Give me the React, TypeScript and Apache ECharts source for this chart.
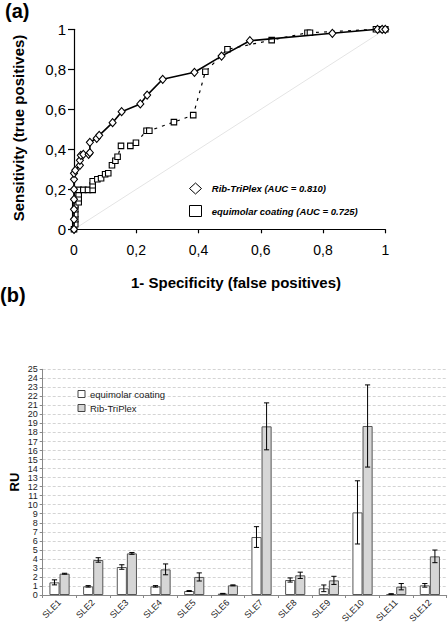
import React, { useEffect, useRef } from "react";
import * as echarts from "echarts";

const FONT = "'Liberation Sans', Arial, Helvetica, sans-serif";

// ---- Panel (a): ROC curves ----
const RIB_NAME = "Rib-TriPlex (AUC = 0.810)";
const EQUI_NAME = "equimolar coating (AUC = 0.725)";

const ribFpr = [0, 0, 0, 0, 0, 0, 0, 0.004, 0.019, 0.019, 0.022, 0.03, 0.047, 0.051, 0.051, 0.073, 0.081, 0.124, 0.153, 0.213, 0.235, 0.285, 0.387, 0.474, 0.565, 0.83, 0.975, 0.99, 1];
const ribTpr = [0, 0.05, 0.1, 0.15, 0.2, 0.25, 0.28, 0.295, 0.32, 0.345, 0.37, 0.375, 0.375, 0.383, 0.435, 0.455, 0.47, 0.533, 0.588, 0.627, 0.671, 0.75, 0.785, 0.866, 0.943, 0.98, 1, 1, 1];

const equiFpr = [0, 0.004, 0.004, 0.004, 0.004, 0.004, 0.015, 0.015, 0.015, 0.015, 0.03, 0.045, 0.06, 0.06, 0.06, 0.075, 0.087, 0.1, 0.11, 0.122, 0.133, 0.14, 0.151, 0.181, 0.199, 0.233, 0.242, 0.321, 0.383, 0.422, 0.493, 0.635, 0.75, 0.758, 0.97, 0.985, 1];
const equiTpr = [0, 0.025, 0.05, 0.075, 0.1, 0.12, 0.135, 0.155, 0.175, 0.197, 0.197, 0.197, 0.197, 0.22, 0.24, 0.25, 0.255, 0.275, 0.28, 0.32, 0.343, 0.363, 0.417, 0.417, 0.433, 0.493, 0.493, 0.536, 0.571, 0.788, 0.9, 0.946, 0.983, 0.983, 1, 1, 1];

// ---- Panel (b): bar chart ----
const categories = ["SLE1", "SLE2", "SLE3", "SLE4", "SLE5", "SLE6", "SLE7", "SLE8", "SLE9", "SLE10", "SLE11", "SLE12"];
const equiValues = [1.4, 0.96, 3.1, 0.96, 0.44, 0.15, 6.42, 1.66, 0.74, 9.15, 0.11, 1.07];
const equiErrors = [0.28, 0.08, 0.25, 0.08, 0.05, 0.03, 1.15, 0.23, 0.37, 3.5, 0.03, 0.2];
const ribValues = [2.36, 3.88, 4.61, 2.84, 2.0, 1.07, 18.68, 2.18, 1.62, 18.72, 0.92, 4.28];
const ribErrors = [0.05, 0.25, 0.1, 0.6, 0.45, 0.05, 2.6, 0.35, 0.45, 4.55, 0.35, 0.7];

const fmtComma = (v: number) => String(v).replace(".", ",");

function errorSeries(values: number[], errors: number[], side: number) {
  return {
    type: "custom",
    xAxisIndex: 1,
    yAxisIndex: 1,
    z: 10,
    silent: true,
    encode: { x: 0, y: [1, 2] },
    data: values.map((v, i) => [i, Math.max(0, v - errors[i]), v + errors[i]]),
    renderItem: (_params: any, api: any) => {
      const idx = api.value(0);
      const lo = api.coord([idx, api.value(1)]);
      const hi = api.coord([idx, api.value(2)]);
      const band = api.size([1, 0])[0];
      const x = lo[0] + side * band * 0.15;
      const cap = 2.6;
      const st = { stroke: "#000", lineWidth: 1 };
      return {
        type: "group",
        children: [
          { type: "line", shape: { x1: x, y1: lo[1], x2: x, y2: hi[1] }, style: st },
          { type: "line", shape: { x1: x - cap, y1: lo[1], x2: x + cap, y2: lo[1] }, style: st },
          { type: "line", shape: { x1: x - cap, y1: hi[1], x2: x + cap, y2: hi[1] }, style: st },
        ],
      };
    },
  };
}

export default function App() {
  const ref = useRef<HTMLDivElement>(null);

  useEffect(() => {
    if (!ref.current) return;
    const chart = echarts.init(ref.current, undefined, { renderer: "svg" });

    const option: any = {
      animation: false,
      backgroundColor: "#ffffff",
      textStyle: { fontFamily: FONT },
      grid: [
        { left: 74, top: 29.3, width: 311.3, height: 200 },
        { left: 42.7, top: 369.3, width: 404, height: 225.7 },
      ],
      legend: [
        {
          orient: "vertical",
          left: 184,
          top: 177.5,
          itemWidth: 12,
          itemHeight: 11,
          itemGap: 10.5,
          selectedMode: false,
          formatter: (n: string) => "  " + n,
          textStyle: { fontSize: 9.5, fontWeight: "bold", fontStyle: "italic", color: "#000", fontFamily: FONT },
          data: [
            { name: RIB_NAME, icon: "diamond", itemStyle: { color: "#fff", borderColor: "#000", borderWidth: 1 } },
            { name: EQUI_NAME, icon: "rect", itemStyle: { color: "#fff", borderColor: "#000", borderWidth: 1 } },
          ],
        },
        {
          orient: "vertical",
          left: 72.5,
          top: 384,
          itemWidth: 7,
          itemHeight: 7,
          itemGap: 4,
          selectedMode: false,
          textStyle: { fontSize: 9.5, color: "#222", fontFamily: FONT },
          data: [
            { name: "equimolar coating", icon: "rect", itemStyle: { color: "#fff", borderColor: "#444", borderWidth: 1 } },
            { name: "Rib-TriPlex", icon: "rect", itemStyle: { color: "#d6d6d6", borderColor: "#444", borderWidth: 1 } },
          ],
        },
      ],
      xAxis: [
        {
          gridIndex: 0,
          type: "value",
          min: 0,
          max: 1,
          interval: 0.2,
          axisLine: { show: true, lineStyle: { color: "#000", width: 1.2 } },
          axisTick: { show: true, length: 4, lineStyle: { color: "#000", width: 1.2 } },
          splitLine: { show: false },
          axisLabel: { fontSize: 14, color: "#000", margin: 14, fontFamily: FONT, formatter: fmtComma },
        },
        {
          gridIndex: 1,
          type: "category",
          data: categories,
          axisLine: { show: true, lineStyle: { color: "#888", width: 1 } },
          axisTick: { show: true, length: 3, lineStyle: { color: "#888" } },
          axisLabel: { rotate: 45, fontSize: 9, color: "#222", margin: 6, interval: 0, fontFamily: FONT },
        },
      ],
      yAxis: [
        {
          gridIndex: 0,
          type: "value",
          min: 0,
          max: 1,
          interval: 0.2,
          axisLine: { show: true, lineStyle: { color: "#000", width: 1.2 } },
          axisTick: { show: true, length: 6, lineStyle: { color: "#000", width: 1.2 } },
          splitLine: { show: false },
          axisLabel: { fontSize: 15, color: "#000", margin: 8, fontFamily: FONT, formatter: fmtComma },
        },
        {
          gridIndex: 1,
          type: "value",
          min: 0,
          max: 25,
          interval: 1,
          axisLine: { show: true, lineStyle: { color: "#888", width: 1 } },
          axisTick: { show: true, length: 3, lineStyle: { color: "#888" } },
          splitLine: { show: true, lineStyle: { color: "#d4d4d4", type: [3, 2], width: 1 } },
          axisLabel: { fontSize: 9, color: "#222", margin: 5, fontFamily: FONT },
        },
      ],
      series: [
        {
          name: "diagonal",
          type: "line",
          xAxisIndex: 0,
          yAxisIndex: 0,
          data: [[0, 0], [1, 1]],
          symbol: "none",
          silent: true,
          lineStyle: { color: "#e4e4e4", width: 1 },
          z: 1,
        },
        {
          name: EQUI_NAME,
          type: "line",
          xAxisIndex: 0,
          yAxisIndex: 0,
          data: equiFpr.map((x, i) => [x, equiTpr[i]]),
          symbol: "rect",
          symbolSize: 5.5,
          showAllSymbol: true,
          lineStyle: { color: "#000", width: 1.2, type: [3, 5] },
          itemStyle: { color: "#fff", borderColor: "#000", borderWidth: 1.1 },
          z: 3,
        },
        {
          name: RIB_NAME,
          type: "line",
          xAxisIndex: 0,
          yAxisIndex: 0,
          data: ribFpr.map((x, i) => [x, ribTpr[i]]),
          symbol: "diamond",
          symbolSize: [7, 8],
          showAllSymbol: true,
          lineStyle: { color: "#000", width: 1.6 },
          itemStyle: { color: "#fff", borderColor: "#000", borderWidth: 1.1 },
          z: 4,
        },
        {
          name: "equimolar coating",
          type: "bar",
          xAxisIndex: 1,
          yAxisIndex: 1,
          data: equiValues,
          barGap: "0%",
          barCategoryGap: "40%",
          itemStyle: { color: "#ffffff", borderColor: "#555", borderWidth: 1 },
        },
        {
          name: "Rib-TriPlex",
          type: "bar",
          xAxisIndex: 1,
          yAxisIndex: 1,
          data: ribValues,
          barGap: "0%",
          barCategoryGap: "40%",
          itemStyle: { color: "#d6d6d6", borderColor: "#555", borderWidth: 1 },
        },
        errorSeries(equiValues, equiErrors, -1),
        errorSeries(ribValues, ribErrors, 1),
      ],
      graphic: [
        { type: "text", left: 5, top: 1, style: { text: "(a)", font: `bold 20px ${FONT}`, fill: "#000" } },
        { type: "text", left: 0, top: 285, style: { text: "(b)", font: `bold 20px ${FONT}`, fill: "#000" } },
        {
          type: "text",
          x: 18,
          y: 128,
          rotation: Math.PI / 2,
          style: { text: "Sensitivity (true positives)", font: `bold 15px ${FONT}`, fill: "#000", align: "center", verticalAlign: "middle" },
        },
        {
          type: "text",
          x: 236,
          y: 282,
          style: { text: "1- Specificity (false positives)", font: `bold 15px ${FONT}`, fill: "#000", align: "center", verticalAlign: "middle" },
        },
        {
          type: "text",
          x: 14,
          y: 482,
          rotation: Math.PI / 2,
          style: { text: "RU", font: `bold 13px ${FONT}`, fill: "#000", align: "center", verticalAlign: "middle" },
        },
      ],
    };

    chart.setOption(option);
    return () => chart.dispose();
  }, []);

  return <div ref={ref} style={{ position: "absolute", left: 0, top: 0, width: 448, height: 628 }} />;
}
